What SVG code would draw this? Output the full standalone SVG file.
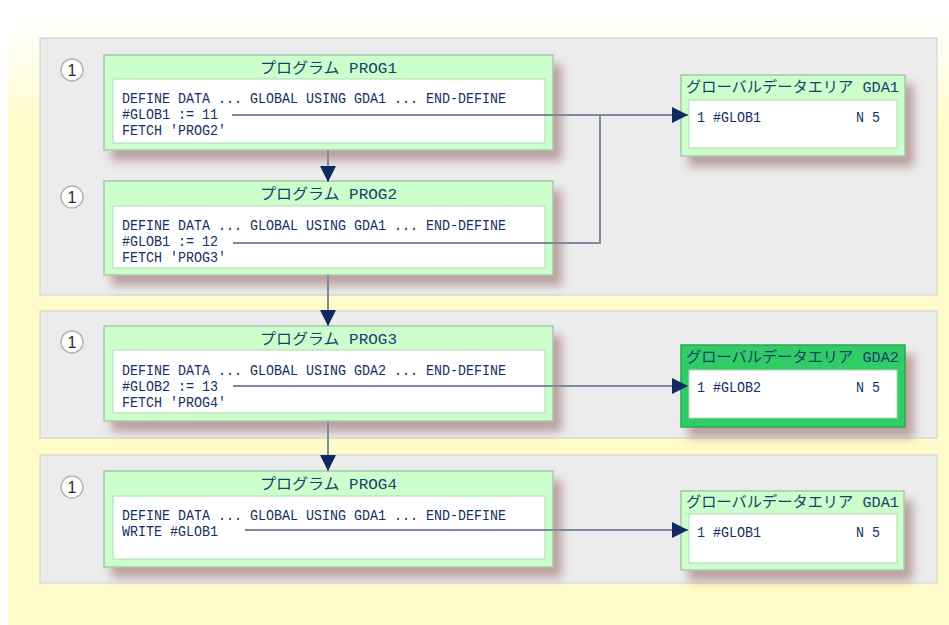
<svg xmlns="http://www.w3.org/2000/svg" width="949" height="625" viewBox="0 0 949 625">
<style>
.panel{fill:#ececec;stroke:#d4d4d4;stroke-width:1.2}
.box{fill:#ccffcc;stroke:#a8c8ac;stroke-width:1.5;filter:url(#sh)}
.boxh{fill:#33cc66;stroke:#27a855;stroke-width:1.5;filter:url(#sh)}
.inner{fill:#ffffff;stroke:#b4d6b6;stroke-width:1}
.code{font-family:"Liberation Mono","DejaVu Sans Mono",monospace;font-size:14px;fill:#132f62}
.title{font-family:"Liberation Mono","Noto Sans CJK JP",monospace;font-size:15px;fill:#17426c}
.num{fill:#ffffff;stroke:#b5b5b5;stroke-width:1.5}
.numt{font-family:"Liberation Sans",Arial,sans-serif;font-size:16px;fill:#2a2a2a;text-anchor:middle}
.conn{stroke:#7e899c;stroke-width:2;fill:none}
</style>
<defs>
<linearGradient id="bg" gradientUnits="userSpaceOnUse" x1="0" y1="18" x2="0" y2="130">
<stop offset="0" stop-color="#ffffff"/>
<stop offset="1" stop-color="#fffcc9"/>
</linearGradient>
<filter id="sh" x="-10%" y="-20%" width="130%" height="160%">
<feDropShadow dx="8" dy="10" stdDeviation="5" flood-color="#8a5454" flood-opacity="0.5"/>
</filter>
<marker id="ah" viewBox="0 0 10 10" refX="10" refY="5" markerWidth="16" markerHeight="16" markerUnits="userSpaceOnUse" orient="auto">
<path d="M0,0 L10,5 L0,10 z" fill="#0d2b5e"/>
</marker>
</defs>
<rect x="0" y="0" width="949" height="625" fill="#ffffff"/>
<rect x="8" y="18" width="941" height="607" fill="url(#bg)"/>

<g id="panels">
<rect class="panel" x="40" y="38" width="897" height="257"/>
<rect class="panel" x="40" y="311" width="897" height="127"/>
<rect class="panel" x="40" y="455" width="897" height="128"/>
</g>

<g id="markers">
<circle class="num" cx="72" cy="70" r="11"/><text class="numt" x="72" y="75.5">1</text>
<circle class="num" cx="72" cy="197" r="11"/><text class="numt" x="72" y="202.5">1</text>
<circle class="num" cx="72" cy="342" r="11"/><text class="numt" x="72" y="347.5">1</text>
<circle class="num" cx="72" cy="487" r="11"/><text class="numt" x="72" y="492.5">1</text>
</g>

<g id="prog1">
<rect class="box" x="104" y="55" width="449" height="95"/>
<rect class="inner" x="113" y="79" width="432" height="64"/>
<text class="title" x="328.5" y="73" text-anchor="middle" textLength="137" lengthAdjust="spacingAndGlyphs">プログラム PROG1</text>
<text class="code" x="122" y="103" textLength="384" lengthAdjust="spacingAndGlyphs">DEFINE DATA ... GLOBAL USING GDA1 ... END-DEFINE</text>
<text class="code" x="122" y="119" textLength="96" lengthAdjust="spacingAndGlyphs">#GLOB1 := 11</text>
<text class="code" x="122" y="135" textLength="104" lengthAdjust="spacingAndGlyphs">FETCH 'PROG2'</text>
</g>

<g id="prog2">
<rect class="box" x="104" y="181" width="449" height="94"/>
<rect class="inner" x="113" y="206" width="432" height="62"/>
<text class="title" x="328.5" y="199" text-anchor="middle" textLength="137" lengthAdjust="spacingAndGlyphs">プログラム PROG2</text>
<text class="code" x="122" y="230" textLength="384" lengthAdjust="spacingAndGlyphs">DEFINE DATA ... GLOBAL USING GDA1 ... END-DEFINE</text>
<text class="code" x="122" y="246" textLength="96" lengthAdjust="spacingAndGlyphs">#GLOB1 := 12</text>
<text class="code" x="122" y="262" textLength="104" lengthAdjust="spacingAndGlyphs">FETCH 'PROG3'</text>
</g>

<g id="prog3">
<rect class="box" x="104" y="326" width="449" height="95"/>
<rect class="inner" x="113" y="350" width="432" height="63"/>
<text class="title" x="328.5" y="344" text-anchor="middle" textLength="137" lengthAdjust="spacingAndGlyphs">プログラム PROG3</text>
<text class="code" x="122" y="374.5" textLength="384" lengthAdjust="spacingAndGlyphs">DEFINE DATA ... GLOBAL USING GDA2 ... END-DEFINE</text>
<text class="code" x="122" y="390.5" textLength="96" lengthAdjust="spacingAndGlyphs">#GLOB2 := 13</text>
<text class="code" x="122" y="406.5" textLength="104" lengthAdjust="spacingAndGlyphs">FETCH 'PROG4'</text>
</g>

<g id="prog4">
<rect class="box" x="104" y="471" width="449" height="96"/>
<rect class="inner" x="113" y="496" width="432" height="63"/>
<text class="title" x="328.5" y="489" text-anchor="middle" textLength="137" lengthAdjust="spacingAndGlyphs">プログラム PROG4</text>
<text class="code" x="122" y="519.5" textLength="384" lengthAdjust="spacingAndGlyphs">DEFINE DATA ... GLOBAL USING GDA1 ... END-DEFINE</text>
<text class="code" x="122" y="535.5" textLength="96" lengthAdjust="spacingAndGlyphs">WRITE #GLOB1</text>
</g>

<g id="gda1a">
<rect class="box" x="681" y="75" width="224" height="81"/>
<rect class="inner" x="689" y="100" width="208" height="48"/>
<text class="title" x="686" y="92" textLength="213" lengthAdjust="spacingAndGlyphs">グローバルデータエリア GDA1</text>
<text class="code" x="697" y="121.5" textLength="64" lengthAdjust="spacingAndGlyphs">1 #GLOB1</text>
<text class="code" x="856" y="121.5" textLength="24" lengthAdjust="spacingAndGlyphs">N 5</text>
</g>

<g id="gda2">
<rect class="boxh" x="681" y="345" width="224" height="82"/>
<rect class="inner" x="689" y="370" width="208" height="48"/>
<text class="title" x="686" y="362" textLength="213" lengthAdjust="spacingAndGlyphs">グローバルデータエリア GDA2</text>
<text class="code" x="697" y="392" textLength="64" lengthAdjust="spacingAndGlyphs">1 #GLOB2</text>
<text class="code" x="856" y="392" textLength="24" lengthAdjust="spacingAndGlyphs">N 5</text>
</g>

<g id="gda1b">
<rect class="box" x="681" y="491" width="223" height="79"/>
<rect class="inner" x="689" y="514" width="208" height="49"/>
<text class="title" x="686" y="507" textLength="213" lengthAdjust="spacingAndGlyphs">グローバルデータエリア GDA1</text>
<text class="code" x="697" y="536.5" textLength="64" lengthAdjust="spacingAndGlyphs">1 #GLOB1</text>
<text class="code" x="856" y="536.5" textLength="24" lengthAdjust="spacingAndGlyphs">N 5</text>
</g>

<g id="connectors">
<path class="conn" d="M232,115 H688" marker-end="url(#ah)"/>
<path class="conn" d="M233,243 H600 V115"/>
<path class="conn" d="M233,386 H688" marker-end="url(#ah)"/>
<path class="conn" d="M245,530 H688" marker-end="url(#ah)"/>
<path class="conn" d="M328,150 V182" marker-end="url(#ah)"/>
<path class="conn" d="M328,275 V326" marker-end="url(#ah)"/>
<path class="conn" d="M328,421 V471" marker-end="url(#ah)"/>
</g>
</svg>
